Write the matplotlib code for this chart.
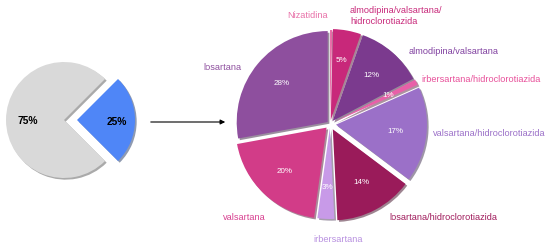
import numpy as np
import matplotlib.pyplot as plt

# datos
left_vals = [75, 25]
left_colors = ['#d9d9d9', '#4f86f7']

drugs = ['Nizatidina', 'almodipina/valsartana/\nhidroclorotiazida', 'almodipina/valsartana',
         'irbersartana/hidroclorotiazida', 'valsartana/hidroclorotiazida',
         'losartana/hidroclorotiazida', 'irbersartana', 'valsartana', 'losartana']
shares = [0.4, 5, 12, 1, 17, 14, 3, 20, 28]
colors = ['#e86aa6', '#c8287a', '#7b3a8e', '#e860a8', '#9b70c8',
          '#9a1b5a', '#c89ae8', '#d23c88', '#8e4f9e']
label_colors = ['#e870a8', '#c8287a', '#8040a0', '#e8509a', '#9b70c8',
                '#a01c5c', '#b890e0', '#d84090', '#8e4f9e']
explode = [3, 4, 4, 5, 6, 6, 4, 5, 3]

# posiciones de las etiquetas (pixeles desde arriba)
label_pos = [(287, 15), (350, 16), (409, 52), (421, 79), (433, 133),
             (389, 217), (313, 239), (223, 217), (203, 67)]

W, H = 550, 252
fig = plt.figure(figsize=(5.5, 2.52), dpi=100)
ax = fig.add_axes([0, 0, 1, 1])

# pastel izquierdo
ax.pie(left_vals, colors=left_colors, startangle=45, center=(64, H - 120), radius=58,
       explode=[0, 13], shadow={'ox': 1.2, 'oy': -1.2, 'shade': 0.6},
       wedgeprops=dict(linewidth=0), frame=True)
ax.text(28, H - 121, '75%', ha='center', va='center', fontsize=7.4, fontweight='bold',
        family='Liberation Sans')
ax.text(117, H - 122, '25%', ha='center', va='center', fontsize=7.4, fontweight='bold',
        family='Liberation Sans')

# flecha
ax.annotate('', xy=(228, H - 122), xytext=(148, H - 122),
            arrowprops=dict(arrowstyle='-|>', lw=0.8, color='black', mutation_scale=7))

# pastel derecho
wedges, texts, autotexts = ax.pie(
    shares, colors=colors, startangle=90, counterclock=False,
    center=(330, H - 124), radius=91, explode=explode,
    shadow={'ox': 1.2, 'oy': -1.2, 'shade': 0.6},
    autopct=lambda p: '' if p < 0.5 else f'{p:.0f}%', pctdistance=0.66,
    wedgeprops=dict(linewidth=0), frame=True,
    textprops=dict(color='white', fontsize=5.8, family='Liberation Sans'))

for name, c, (x, y) in zip(drugs, label_colors, label_pos):
    ax.text(x, H - y, name, ha='left', va='center', color=c, fontsize=6.6,
            family='Liberation Sans', linespacing=1.3)

ax.set_xlim(0, W)
ax.set_ylim(0, H)
ax.set_aspect('equal')
ax.axis('off')

fig.savefig('out.png', dpi=100)
